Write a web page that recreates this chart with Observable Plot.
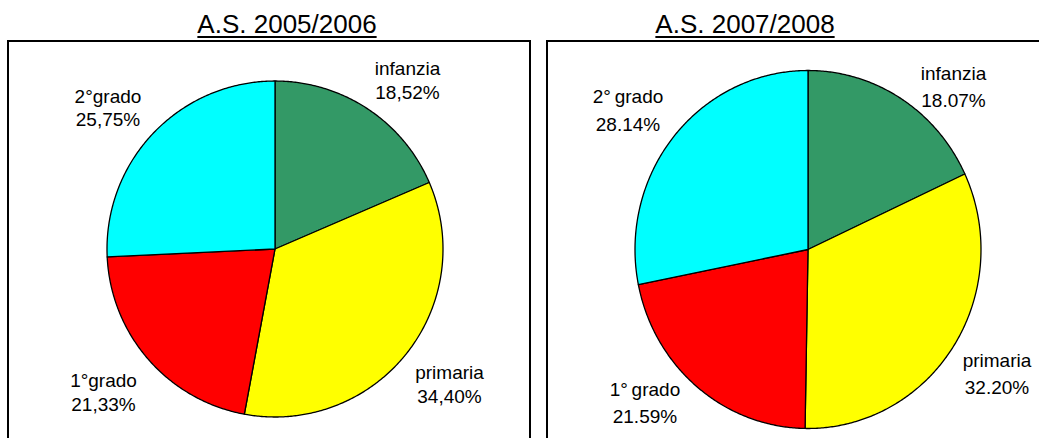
<!DOCTYPE html>
<html><head><meta charset="utf-8">
<script src="https://cdn.jsdelivr.net/npm/d3@7"></script>
<script src="https://cdn.jsdelivr.net/npm/@observablehq/plot@0.6"></script>
<style>
html,body{margin:0;padding:0;background:#fff;width:1039px;height:438px;overflow:hidden;font-family:"Liberation Sans",Arial,sans-serif;}
.box{position:absolute;top:40px;height:440px;border:2px solid #000;box-sizing:border-box;}
.title{position:absolute;top:11px;font-size:26px;line-height:26px;text-decoration:underline;text-decoration-thickness:2px;text-underline-offset:3px;white-space:nowrap;transform:translateX(-50%);color:#000;}
.plot{position:absolute;top:0;}
</style></head><body>
<div class="box" style="left:7px;width:524px"></div>
<div class="box" style="left:546px;width:600px"></div>
<div class="title" style="left:287px">A.S. 2005/2006</div>
<div class="title" style="left:745px">A.S. 2007/2008</div>
<div id="p1" class="plot" style="left:0"></div>
<div id="p2" class="plot" style="left:538px"></div>
<script>
// ---- data ----
const categories = ["infanzia", "primaria", "1°grado", "2°grado"];
const labels0506 = ["infanzia", "primaria", "1°grado", "2°grado"];
const labels0708 = ["infanzia", "primaria", "1°\u2009grado", "2°\u2009grado"];
const share0506 = [18.52, 34.40, 21.33, 25.75];
const share0708 = [18.07, 32.20, 21.59, 28.14];
const sliceColors = ["#339966", "#ffff00", "#ff0000", "#00ffff"];

// ---- layout (pixels) ----
const layout0506 = {W: 538, H: 438, cx: 274.5, cy: 248.5, rx: 168, ry: 168, lineHeight: 1.25, sep: ","};
const layout0708 = {W: 501, H: 438, cx: 269.5, cy: 249, rx: 173, ry: 179, lineHeight: 1.45, sep: "."};
const labelNudge0506 = [[12.5, 13], [3.8, -2.2], [-6.9, -1.5], [-9, 8.7]];
const labelNudge0708 = [[24.6, 31.6], [0.4, -4.8], [-19, -27.5], [-6.1, 6.3]];
const labelRadius = 1.3;

function pie(shares, labels, L, nudges) {
  const total = d3.sum(shares);
  const slices = [];
  const labelsData = [];
  let acc = 0;
  shares.forEach((v, i) => {
    const a0 = acc / total * 2 * Math.PI;
    acc += v;
    const a1 = acc / total * 2 * Math.PI;
    const key = categories[i];
    slices.push({key, x: 0, y: 0});
    const n = Math.max(2, Math.ceil((a1 - a0) / (Math.PI / 360)));
    for (let k = 0; k <= n; k++) {
      const t = a0 + (a1 - a0) * k / n;
      slices.push({key, x: Math.sin(t), y: Math.cos(t)});
    }
    slices.push({key, x: 0, y: 0});
    const am = (a0 + a1) / 2;
    labelsData.push({
      key,
      x: labelRadius * Math.sin(am),
      y: labelRadius * Math.cos(am),
      text: labels[i] + "\n" + v.toFixed(2).replace(".", L.sep) + "%",
      nudge: nudges[i]
    });
  });
  return Plot.plot({
    width: L.W, height: L.H,
    margin: 0,
    style: {background: "transparent", overflow: "visible"},
    x: {domain: [-L.cx / L.rx, (L.W - L.cx) / L.rx], axis: null},
    y: {domain: [(L.cy - L.H) / L.ry, L.cy / L.ry], axis: null},
    color: {type: "ordinal", domain: categories, range: sliceColors},
    marks: [
      Plot.line(slices, {x: "x", y: "y", fill: "key", z: "key", stroke: "#000", strokeWidth: 1.3, strokeLinejoin: "round", curve: "linear"}),
      ...labelsData.map(d => Plot.text([d], {
        x: "x", y: "y", text: "text",
        dx: d.nudge[0], dy: d.nudge[1],
        fontSize: 19, lineHeight: L.lineHeight,
        fontFamily: "Liberation Sans, Arial, sans-serif",
        fill: "#000", textAnchor: "middle"
      }))
    ]
  });
}

document.getElementById("p1").append(pie(share0506, labels0506, layout0506, labelNudge0506));
document.getElementById("p2").append(pie(share0708, labels0708, layout0708, labelNudge0708));
</script>
</body></html>
